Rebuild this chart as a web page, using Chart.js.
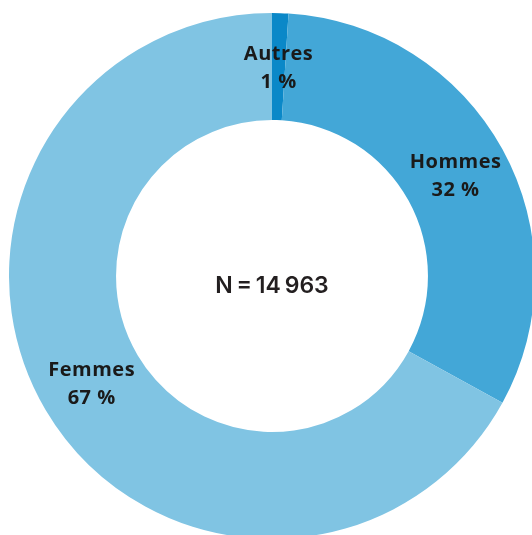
<!DOCTYPE html>
<html>
<head>
<meta charset="utf-8">
<script src="https://cdn.jsdelivr.net/npm/chart.js@4/dist/chart.umd.min.js"></script>
<style>
  html, body { margin: 0; padding: 0; background: #fff; overflow: hidden; width: 532px; height: 535px; }
  #wrap { position: absolute; left: 9px; top: 13px; width: 526px; height: 526px; }
</style>
</head>
<body>
<div id="wrap"><canvas id="chart" width="526" height="526"></canvas></div>
<script>
const categories = ["Autres", "Hommes", "Femmes"];
const shares = [1, 32, 67];
const pctLabels = ["1 %", "32 %", "67 %"];
const colors = ["#0a88c8", "#43a7d7", "#80c4e3"];
const centerText = "N\u202F=\u202F14\u202F963";

// draws the two-line labels on each arc and the N in the hole
const labelsPlugin = {
  id: "labels",
  afterDatasetsDraw(chart) {
    const ctx = chart.ctx;
    const meta = chart.getDatasetMeta(0);
    ctx.save();
    ctx.fillStyle = "#1a1a1a";
    ctx.textAlign = "center";
    ctx.textBaseline = "alphabetic";
    ctx.font = "bold 20px 'Open Sans'";
    ctx.letterSpacing = "0.5px";
    meta.data.forEach((arc, i) => {
      const p = arc.tooltipPosition();
      ctx.fillText(categories[i], p.x, p.y - 7);
      ctx.fillText(pctLabels[i], p.x, p.y + 21);
    });
    const c = meta.data[0];
    ctx.fillStyle = "#231f20";
    ctx.letterSpacing = "0px";
    ctx.font = "600 23px Inter";
    ctx.fillText(centerText, c.x, c.y + 17);
    ctx.restore();
  }
};

new Chart(document.getElementById("chart"), {
  type: "doughnut",
  data: {
    labels: categories,
    datasets: [{
      data: shares,
      backgroundColor: colors,
      borderWidth: 0
    }]
  },
  options: {
    responsive: false,
    animation: false,
    devicePixelRatio: 1,
    cutout: "59.3%",
    layout: { padding: 0 },
    plugins: {
      legend: { display: false },
      tooltip: { enabled: false }
    }
  },
  plugins: [labelsPlugin]
});
</script>
</body>
</html>
